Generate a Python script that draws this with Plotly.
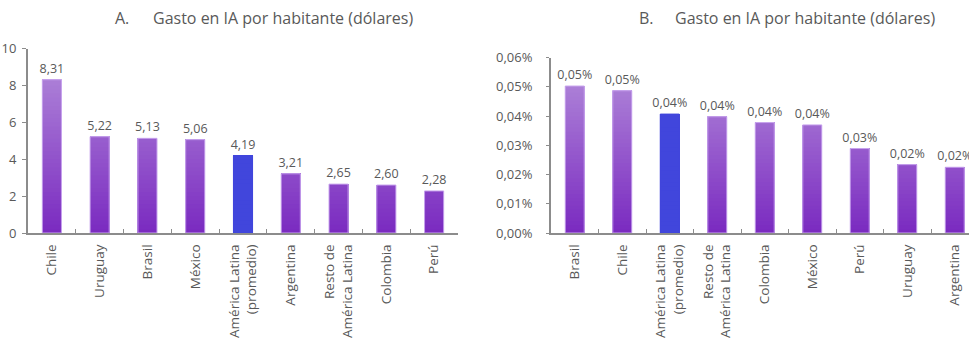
import plotly.graph_objects as go

# Panel A: AI spending per inhabitant (USD)
cats_a = ["Chile", "Uruguay", "Brasil", "México", "América Latina<br>(promedio)",
          "Argentina", "Resto de<br>América Latina", "Colombia", "Perú"]
vals_a = [8.31, 5.22, 5.13, 5.06, 4.19, 3.21, 2.65, 2.60, 2.28]

# Panel B: AI spending as share (%)
cats_b = ["Brasil", "Chile", "América Latina<br>(promedio)", "Resto de<br>América Latina",
          "Colombia", "México", "Perú", "Uruguay", "Argentina"]
vals_b = [0.0503, 0.0487, 0.0407, 0.0398, 0.0378, 0.0370, 0.0289, 0.0234, 0.0225]

AVG_LABEL = "América Latina<br>(promedio)"
BLUE = "#4146DC"
TXT = "#595959"
AXIS = "#8C8C8C"
FONT = "Open Sans"
W, H = 969, 341

C_LOW = (122, 42, 192)
C_HIGH = (172, 128, 215)


def grad(f):
    f = max(0.0, min(1.0, f / 0.85))
    r, g, b = (round(C_LOW[i] + (C_HIGH[i] - C_LOW[i]) * f) for i in range(3))
    return f"rgb({r},{g},{b})"


fig = go.Figure()
N_LEVELS = 45


def add_panel(cats, vals, ymax, xa, ya, fmt, suffix):
    step = ymax / N_LEVELS
    # vertical gradient: paint from the top level down, each layer capped at the bar value
    for k in range(N_LEVELS, 0, -1):
        lvl = k * step
        col = grad((lvl - step / 2) / ymax)
        fig.add_trace(go.Bar(
            x=cats, y=[min(v, lvl) for v in vals],
            marker=dict(color=[BLUE if c == AVG_LABEL else col for c in cats], line_width=0),
            width=0.4, xaxis=xa, yaxis=ya, showlegend=False, hoverinfo="skip"))
    # outline + value labels
    fig.add_trace(go.Bar(
        x=cats, y=vals, width=0.4, xaxis=xa, yaxis=ya, showlegend=False,
        marker=dict(color="rgba(0,0,0,0)",
                    line=dict(color=[BLUE if c == AVG_LABEL else "#C9A6EE" for c in cats], width=1)),
        texttemplate="%{y:" + fmt + "}" + suffix, textposition="outside",
        constraintext="none",
        textfont=dict(family=FONT, size=12.5, color=TXT), cliponaxis=True))


add_panel(cats_a, vals_a, 10, "x", "y", ".2f", "")
add_panel(cats_b, vals_b, 0.06, "x2", "y2", ".2f", "%")


def px_x(p):
    return p / W


def px_y(p):
    return (H - p) / H


axis_common = dict(showline=True, linecolor=AXIS, linewidth=2, showgrid=False, zeroline=False,
                   automargin=False)
tick_font = dict(family=FONT, size=13, color=TXT)
cat_font = dict(family=FONT, size=13.5, color=TXT)

fig.update_layout(
    width=W, height=H, margin=dict(l=0, r=0, t=0, b=0),
    paper_bgcolor="white", plot_bgcolor="white",
    barmode="overlay", separators=",.",
    font=dict(family=FONT, color=TXT),
    xaxis=dict(domain=[px_x(28), px_x(458)], anchor="y", type="category",
               tickangle=-90, ticks="inside", tickson="boundaries", ticklen=4, tickcolor=AXIS,
               range=[-0.5, 8.5], ticklabelstandoff=4, tickfont=cat_font, **axis_common),
    yaxis=dict(domain=[px_y(233), px_y(48.5)], anchor="x", range=[0, 10], dtick=2,
               ticks="outside", ticklen=4, tickcolor=AXIS, ticklabelstandoff=3,
               tickfont=tick_font, **axis_common),
    xaxis2=dict(domain=[px_x(551), 1.0], anchor="y2", type="category",
                tickangle=-90, ticks="inside", tickson="boundaries", ticklen=4, tickcolor=AXIS,
                range=[-0.5, 8.3], ticklabelstandoff=4, tickfont=cat_font, **axis_common),
    yaxis2=dict(domain=[px_y(233), px_y(57.7)], anchor="x2", range=[0, 0.06], dtick=0.01,
                tickformat=".2f", ticksuffix="%",
                ticks="outside", ticklen=3, tickcolor=AXIS, ticklabelstandoff=11,
                tickfont=tick_font, **axis_common),
)

title_font = dict(family=FONT, size=16, color=TXT)
for lab, x0, x1 in [("A.", 113, 151), ("B.", 637, 673)]:
    fig.add_annotation(text=lab, x=px_x(x0), y=px_y(18), xref="paper", yref="paper",
                       xanchor="left", yanchor="middle", showarrow=False, font=title_font)
    fig.add_annotation(text="Gasto en IA por habitante (dólares)", x=px_x(x1), y=px_y(18),
                       xref="paper", yref="paper", xanchor="left", yanchor="middle",
                       showarrow=False, font=title_font)

fig.write_html("out.html")
